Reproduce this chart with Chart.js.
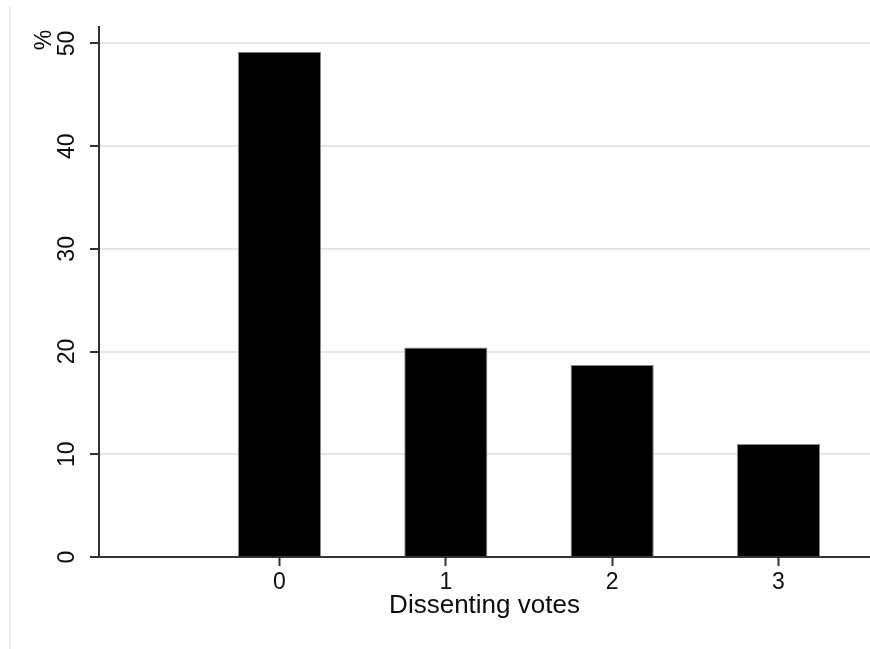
<!DOCTYPE html>
<html>
<head>
<meta charset="utf-8">
<script src="https://cdn.jsdelivr.net/npm/chart.js@4"></script>
<style>
  body { margin: 0; background: #fff; }
  canvas { display: block; }
</style>
</head>
<body>
<canvas id="canvas" width="870" height="649"></canvas>
<script>
// values
const categories = [0, 1, 2, 3];
const percentValues = [49.2, 20.4, 18.7, 11.0];
const yTickValues = [0, 10, 20, 30, 40, 50];
const xTitle = 'Dissenting votes';
const yTitle = '%';

const FONT = "'Liberation Sans', Arial, sans-serif";
const INK = '#0d0d0d';

// rotated y tick labels + "%" title and the faint frame line at left edge
const stataLook = {
  id: 'stataLook',
  beforeDraw(chart) {
    const ctx = chart.ctx;
    ctx.save();
    ctx.fillStyle = '#fff';
    ctx.fillRect(0, 0, chart.width, chart.height);
    ctx.strokeStyle = '#e3edf1';
    ctx.lineWidth = 2;
    ctx.beginPath();
    ctx.moveTo(10, 7);
    ctx.lineTo(10, chart.height);
    ctx.stroke();
    ctx.restore();
  },
  afterDraw(chart) {
    const ctx = chart.ctx;
    const y = chart.scales.y;
    ctx.save();
    ctx.fillStyle = INK;
    ctx.font = '23px ' + FONT;
    ctx.textAlign = 'center';
    ctx.textBaseline = 'middle';
    yTickValues.forEach((v) => {
      ctx.save();
      ctx.translate(68, y.getPixelForValue(v));
      ctx.rotate(-Math.PI / 2);
      ctx.fillText(String(v), 0, 0);
      ctx.restore();
    });
    ctx.translate(45, 40);
    ctx.rotate(-Math.PI / 2);
    ctx.fillText(yTitle, 0, 0);
    ctx.restore();
  }
};

const ctx = document.getElementById('canvas').getContext('2d');
const myBarChart = new Chart(ctx, {
  type: 'bar',
  data: {
    datasets: [{
      data: categories.map((c, i) => ({ x: c, y: percentValues[i] })),
      backgroundColor: '#000',
      borderColor: '#8c8c8c',
      borderWidth: 1,
      categoryPercentage: 0.5,
      barPercentage: 1.0
    }]
  },
  options: {
    responsive: false,
    devicePixelRatio: 1,
    animation: false,
    layout: { padding: { top: 27, right: 0, bottom: 0, left: 0 } },
    plugins: {
      legend: { display: false },
      tooltip: { enabled: false }
    },
    scales: {
      x: {
        type: 'linear',
        offset: false,
        min: -1.085,
        max: 3.55,
        afterBuildTicks: (scale) => { scale.ticks = categories.map((v) => ({ value: v })); },
        afterFit: (scale) => { scale.height = 92; },
        grid: {
          display: true,
          offset: false,
          drawOnChartArea: false,
          drawTicks: true,
          tickLength: 9,
          tickColor: '#333',
          tickWidth: 2
        },
        border: { display: true, color: '#333', width: 2, z: 1 },
        ticks: {
          color: INK,
          font: { family: FONT, size: 23 },
          padding: 3,
          maxRotation: 0,
          minRotation: 0
        },
        title: {
          display: true,
          text: xTitle,
          color: INK,
          font: { family: FONT, size: 26 },
          padding: { top: 0, bottom: 28 }
        }
      },
      y: {
        min: 0,
        max: 51.6,
        afterBuildTicks: (scale) => { scale.ticks = yTickValues.map((v) => ({ value: v })); },
        afterFit: (scale) => { scale.width = 99; },
        grid: {
          color: (c) => (c.tick && c.tick.value === 0 ? 'rgba(0,0,0,0)' : '#e6e6e6'),
          lineWidth: 2,
          drawTicks: true,
          tickLength: 9,
          tickColor: '#333',
          tickWidth: 2
        },
        border: { display: true, color: '#333', width: 2 },
        ticks: { display: false }
      }
    }
  },
  plugins: [stataLook]
});
</script>
</body>
</html>
